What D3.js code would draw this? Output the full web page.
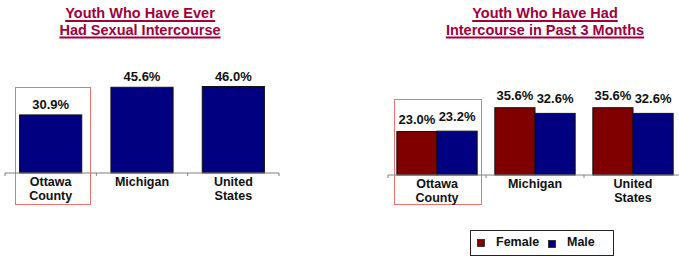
<!DOCTYPE html>
<meta charset="utf-8">
<script src="https://d3js.org/d3.v7.min.js"></script>
<style>
  body { margin: 0; background: #fff; }
  text { font-family: "Liberation Sans", Arial, sans-serif; font-weight: bold; }
</style>
<div id="chart"></div>
<script>
  // data
  const categories = ["Ottawa County", "Michigan", "United States"];
  const everValues = [30.9, 45.6, 46.0];
  const seriesNames = ["Female", "Male"];
  const femaleValues = [23.0, 35.6, 35.6];
  const maleValues = [23.2, 32.6, 32.6];
  const catLines = [["Ottawa", "County"], ["Michigan"], ["United", "States"]];

  const colors = {Female: "#800000", Male: "#000080"};
  const titleColor = "#a0003c";

  const svg = d3.select("#chart").append("svg")
    .attr("width", 679).attr("height", 256);

  function title(cx, lines) {
    lines.forEach((t, i) => {
      const yy = 18 + i * 16.5;
      const txt = svg.append("text")
        .attr("x", cx).attr("y", yy)
        .attr("text-anchor", "middle")
        .attr("font-size", 14.5)
        .attr("fill", titleColor)
        .text(t);
      const bb = txt.node().getBBox();
      svg.append("line")
        .attr("x1", bb.x).attr("x2", bb.x + bb.width)
        .attr("y1", yy + 3).attr("y2", yy + 3)
        .attr("stroke", titleColor).attr("stroke-width", 2);
    });
  }

  function axis(x, y0) {
    const [a, b] = x.range();
    svg.append("line").attr("x1", a).attr("x2", b).attr("y1", y0).attr("y2", y0)
      .attr("stroke", "#808080").attr("stroke-width", 1);
    const bounds = categories.map(c => x(c)).concat([b]);
    svg.selectAll(null).data(bounds).join("line")
      .attr("x1", d => d).attr("x2", d => d)
      .attr("y1", y0).attr("y2", y0 + 3)
      .attr("stroke", "#808080");
    categories.forEach((c, i) => {
      catLines[i].forEach((l, j) => {
        svg.append("text")
          .attr("x", x(c) + x.bandwidth() / 2)
          .attr("y", y0 + 13 + j * 13.5)
          .attr("text-anchor", "middle")
          .attr("font-size", 12.5)
          .attr("fill", "#111")
          .text(l);
      });
    });
  }

  // ---- left chart
  title(140, ["Youth Who Have Ever", "Had Sexual Intercourse"]);
  const x1 = d3.scaleBand().domain(categories).range([5, 279]);
  const xin1 = d3.scaleBand().domain(["v"]).range([0, x1.bandwidth()])
    .paddingInner(0.19).paddingOuter(0.19);
  const y1 = d3.scaleLinear().domain([0, 50]).range([173, 173 - 94]);

  svg.append("rect").attr("x", 15.5).attr("y", 87.5).attr("width", 75).attr("height", 117)
    .attr("fill", "none").attr("stroke", "#f07070").attr("stroke-width", 1);

  svg.selectAll(".bar1").data(everValues).join("rect")
    .attr("x", (d, i) => x1(categories[i]) + xin1("v"))
    .attr("y", d => y1(d))
    .attr("width", xin1.bandwidth())
    .attr("height", d => y1(0) - y1(d))
    .attr("fill", "#000080").attr("stroke", "#111").attr("stroke-width", 1);
  svg.selectAll(".lab1").data(everValues).join("text")
    .attr("x", (d, i) => x1(categories[i]) + xin1("v") + xin1.bandwidth() / 2)
    .attr("y", d => y1(d) - 6)
    .attr("text-anchor", "middle").attr("font-size", 13).attr("fill", "#111")
    .text(d => d.toFixed(1) + "%");
  axis(x1, 173);

  // ---- right chart
  title(545, ["Youth Who Have Had", "Intercourse in Past 3 Months"]);
  const x2 = d3.scaleBand().domain(categories).range([388, 682]);
  const xin2 = d3.scaleBand().domain(seriesNames).range([0, x2.bandwidth()])
    .paddingInner(0).paddingOuter(0.22);
  const y2 = d3.scaleLinear().domain([0, 50]).range([175, 175 - 94.5]);

  svg.append("rect").attr("x", 394.5).attr("y", 99.5).attr("width", 87).attr("height", 105)
    .attr("fill", "none").attr("stroke", "#f07070").attr("stroke-width", 1);

  const rows = [];
  categories.forEach((c, i) => {
    rows.push({cat: c, s: "Female", v: femaleValues[i]});
    rows.push({cat: c, s: "Male", v: maleValues[i]});
  });
  svg.selectAll(".bar2").data(rows).join("rect")
    .attr("x", d => x2(d.cat) + xin2(d.s))
    .attr("y", d => y2(d.v))
    .attr("width", xin2.bandwidth())
    .attr("height", d => y2(0) - y2(d.v))
    .attr("fill", d => colors[d.s]).attr("stroke", "#111").attr("stroke-width", 1);
  svg.selectAll(".lab2").data(rows).join("text")
    .attr("x", d => x2(d.cat) + xin2(d.s) + xin2.bandwidth() / 2)
    .attr("y", d => y2(d.v) - (d.s === "Female" ? 8 : 10))
    .attr("text-anchor", "middle").attr("font-size", 13).attr("fill", "#111")
    .text(d => d.v.toFixed(1) + "%");
  axis(x2, 175);

  // legend
  svg.append("rect").attr("x", 470.5).attr("y", 230.5).attr("width", 143).attr("height", 25)
    .attr("fill", "#fff").attr("stroke", "#222").attr("stroke-width", 1);
  const legX = [477, 548];
  seriesNames.forEach((s, i) => {
    svg.append("rect").attr("x", legX[i] + 0.5).attr("y", 239.5 + i).attr("width", 7).attr("height", 7)
      .attr("fill", colors[s]).attr("stroke", "#222").attr("stroke-width", 0.8);
    svg.append("text").attr("x", legX[i] + 19).attr("y", 246)
      .attr("font-size", 12.5).attr("fill", "#111").text(s);
  });
</script>
